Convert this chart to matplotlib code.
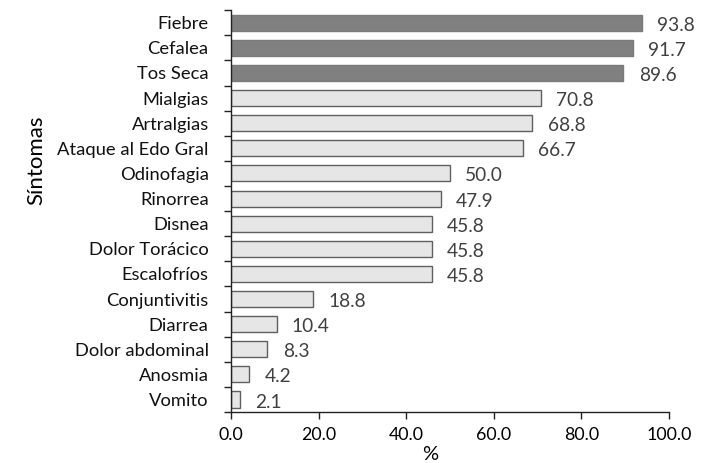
import numpy as np
import matplotlib.pyplot as plt
from matplotlib.ticker import FixedLocator, FormatStrFormatter

sintomas = ['Fiebre', 'Cefalea', 'Tos Seca', 'Mialgias', 'Artralgias',
            'Ataque al Edo Gral', 'Odinofagia', 'Rinorrea', 'Disnea',
            'Dolor Torácico', 'Escalofríos', 'Conjuntivitis', 'Diarrea',
            'Dolor abdominal', 'Anosmia', 'Vomito']
porcentaje = [93.8, 91.7, 89.6, 70.8, 68.8, 66.7, 50.0, 47.9, 45.8,
              45.8, 45.8, 18.8, 10.4, 8.3, 4.2, 2.1]
destacados = 3

plt.rcParams['font.family'] = ['Lato', 'DejaVu Sans']

fig = plt.figure(figsize=(7.02, 4.63), dpi=100)
ax = fig.add_axes([0.329, 0.110, 0.624, 0.868])

n = len(sintomas)
y = np.arange(n)[::-1]
colores = ['#808080' if i < destacados else '#e6e6e6' for i in range(n)]
bordes = ['#7a7a7a' if i < destacados else '#606060' for i in range(n)]
ax.barh(y, porcentaje, height=0.64, color=colores, edgecolor=bordes, linewidth=1.0)

for yi, v in zip(y, porcentaje):
    ax.text(v + 3.5, yi - 0.1, f'{v:.1f}', va='center', ha='left',
            fontsize=13.8, color='#404040')

ax.set_xlim(0, 100)
ax.set_ylim(-0.5, n - 0.5)
ax.set_xticks(np.arange(0, 101, 20))
ax.xaxis.set_major_formatter(FormatStrFormatter('%.1f'))
ax.set_yticks(y)
ax.set_yticklabels(sintomas)
ax.yaxis.set_minor_locator(FixedLocator(np.arange(-0.5, n, 1.0)))
ax.tick_params(axis='y', which='major', length=0, pad=16, labelsize=13.2, labelcolor='#111111')
ax.tick_params(axis='y', which='minor', length=5, width=1.0, color='#222222')
ax.tick_params(axis='x', which='major', length=5, width=1.0, labelsize=12.8, pad=6, color='#222222')

for s in ['top', 'right']:
    ax.spines[s].set_visible(False)
for s in ['left', 'bottom']:
    ax.spines[s].set_color('#222222')
    ax.spines[s].set_linewidth(1.0)

ax.set_xlabel('%', fontsize=14.5)
ax.xaxis.set_label_coords(0.454, -0.085)
ax.set_ylabel('Síntomas', fontsize=16)
ax.yaxis.set_label_coords(-0.422, 0.627)

fig.savefig('out.png', dpi=100)
